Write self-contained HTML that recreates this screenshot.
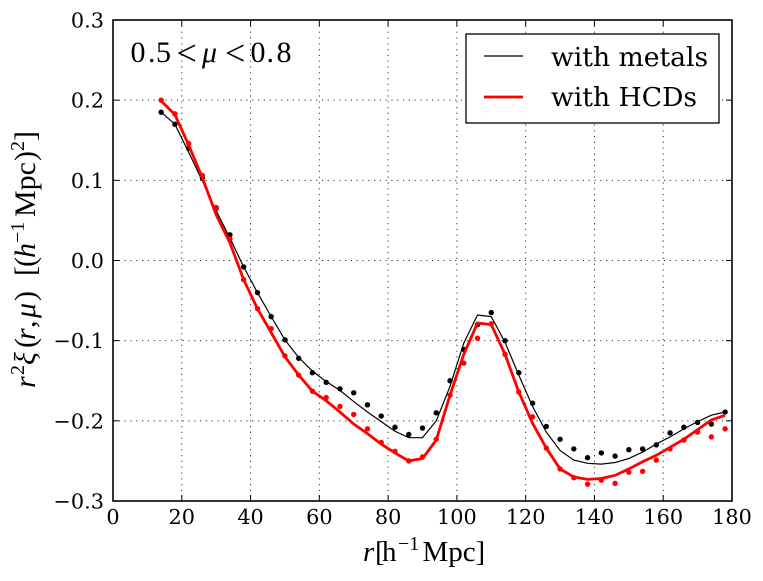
<!DOCTYPE html>
<html>
<head>
<meta charset="utf-8">
<style>
html,body{margin:0;padding:0;background:#fff;width:763px;height:581px;overflow:hidden}
svg{display:block}
text{font-family:"DejaVu Serif","Liberation Serif",serif;fill:#000}
.math,.math text{font-family:"Liberation Serif","DejaVu Serif",serif}
</style>
</head>
<body>
<svg id="chart" width="763" height="581" viewBox="0 0 763 581" xmlns="http://www.w3.org/2000/svg">
  <rect x="0" y="0" width="763" height="581" fill="#fff"/>
  <g id="grid"></g>
  <g id="series"></g>
  <g id="ticks"></g>
  <rect x="113" y="20" width="619" height="481" fill="none" stroke="#000" stroke-width="1.6"/>
  <text class="math" y="62" font-size="30"><tspan x="130.5">0</tspan><tspan x="148">.</tspan><tspan x="156">5</tspan><tspan x="176.5" y="65" font-size="36">&lt;</tspan><tspan x="202" y="62" font-style="italic">μ</tspan><tspan x="225" y="65" font-size="36">&lt;</tspan><tspan x="250.5" y="62">0</tspan><tspan x="266.5">.</tspan><tspan x="276.5">8</tspan></text>
  <g>
    <rect x="466" y="34" width="253" height="89" fill="#fff" stroke="#000" stroke-width="1.3"/>
    <line x1="484" y1="56" x2="523" y2="56" stroke="#000" stroke-width="1.2"/>
    <text x="551" y="66" font-size="26.6">with metals</text>
    <line x1="484" y1="97" x2="523" y2="97" stroke="#f00" stroke-width="2.8"/>
    <text x="551" y="106" font-size="26.6">with HCDs</text>
  </g>
  <text class="math" y="561" font-size="29"><tspan x="363" font-style="italic">r</tspan><tspan x="375">[</tspan><tspan x="382">h</tspan><tspan x="398" y="550" font-size="20">−1</tspan><tspan x="422.5" y="561">Mpc</tspan><tspan x="475.5">]</tspan></text>
  <text class="math" transform="translate(35 388) rotate(-90)" y="0" font-size="30"><tspan x="0" font-style="italic">r</tspan><tspan x="13" y="-11" font-size="20">2</tspan><tspan x="23" y="0" font-style="italic">ξ</tspan><tspan x="40">(</tspan><tspan x="48" font-style="italic">r</tspan><tspan x="60">,</tspan><tspan x="70" font-style="italic">μ</tspan><tspan x="87">)</tspan><tspan x="112">[</tspan><tspan x="121">(</tspan><tspan x="130" font-style="italic">h</tspan><tspan x="145" y="-11" font-size="20">−1</tspan><tspan x="171" y="0">Mpc</tspan><tspan x="227">)</tspan><tspan x="237" y="-11" font-size="20">2</tspan><tspan x="247" y="0">]</tspan></text>
</svg>
<script>
const radiusBins = [14,18,22,26,30,34,38,42,46,50,54,58,62,66,70,74,78,82,86,90,94,98,102,106,110,114,118,122,126,130,134,138,142,146,150,154,158,162,166,170,174,178];
const metalsLine = [.185,.170,.135,.099,.062,.028,-.008,-.040,-.070,-.099,-.121,-.138,-.151,-.162,-.176,-.189,-.201,-.213,-.221,-.221,-.200,-.157,-.103,-.068,-.070,-.102,-.143,-.182,-.214,-.237,-.249,-.253,-.254,-.252,-.247,-.239,-.229,-.220,-.210,-.201,-.193,-.189];
const hcdsLine = [.199,.182,.144,.103,.057,.022,-.024,-.060,-.090,-.120,-.143,-.163,-.175,-.189,-.204,-.216,-.229,-.240,-.250,-.247,-.224,-.168,-.117,-.078,-.080,-.117,-.164,-.203,-.234,-.260,-.270,-.273,-.272,-.268,-.260,-.251,-.243,-.233,-.223,-.211,-.199,-.193];
const metalsDots = [.185,.170,.140,.103,.065,.032,-.008,-.040,-.070,-.099,-.122,-.140,-.152,-.160,-.165,-.180,-.194,-.208,-.217,-.209,-.190,-.150,-.111,-.080,-.065,-.100,-.140,-.178,-.207,-.223,-.235,-.246,-.240,-.244,-.236,-.235,-.230,-.215,-.208,-.202,-.204,-.189];
const hcdsDots = [.200,.183,.146,.106,.066,.027,-.024,-.060,-.085,-.119,-.143,-.163,-.171,-.182,-.192,-.210,-.227,-.238,-.250,-.245,-.223,-.168,-.128,-.097,-.079,-.117,-.164,-.195,-.234,-.260,-.271,-.279,-.274,-.278,-.264,-.263,-.249,-.235,-.224,-.214,-.220,-.210];
const xTickValues = [0,20,40,60,80,100,120,140,160,180];
const yTickValues = [0.3,0.2,0.1,0,-0.1,-0.2,-0.3];

const NS = 'http://www.w3.org/2000/svg';
const left = 113, right = 732, top_ = 20, bottom = 501;
function xScale(v){ return left + (v - 0) / 180 * (right - left); }
function yScale(v){ return bottom - (v + 0.3) / 0.6 * (bottom - top_); }
function make(tag, attrs, parent){
  const el = document.createElementNS(NS, tag);
  for (const k in attrs) el.setAttribute(k, attrs[k]);
  parent.appendChild(el);
  return el;
}
const gridG = document.getElementById('grid');
const tickG = document.getElementById('ticks');
const seriesG = document.getElementById('series');

xTickValues.forEach(function(v){
  const x = xScale(v);
  if (v > 0 && v < 180) {
    const g = make('line', {x1:x, y1:top_, x2:x, y2:bottom, stroke:'#333', 'stroke-width':1, 'stroke-dasharray':'1.2 4.6'}, gridG);
    
    
  }
  const t1 = make('line', {x1:x, y1:bottom, x2:x, y2:bottom-6, stroke:'#000', 'stroke-width':1}, tickG);
  
  
  const t2 = make('line', {x1:x, y1:top_, x2:x, y2:top_+6, stroke:'#000', 'stroke-width':1}, tickG);
  
  
  const lab = make('text', {x:x, y:524, 'font-size':20.8, 'text-anchor':'middle'}, tickG);
  
  
  lab.textContent = String(v);
});
yTickValues.forEach(function(v){
  const y = yScale(v);
  if (v > -0.3 && v < 0.3) {
    const g = make('line', {x1:left, y1:y, x2:right, y2:y, stroke:'#333', 'stroke-width':1, 'stroke-dasharray':'1.2 4.6'}, gridG);
    
    
  }
  const t1 = make('line', {x1:left, y1:y, x2:left+6, y2:y, stroke:'#000', 'stroke-width':1}, tickG);
  
  
  const t2 = make('line', {x1:right, y1:y, x2:right-6, y2:y, stroke:'#000', 'stroke-width':1}, tickG);
  
  
  const lab = make('text', {x:104, y:y+7.5, 'font-size':20.8, 'text-anchor':'end'}, tickG);
  
  
  lab.textContent = (v < 0 ? '\u2212' : '') + Math.abs(v).toFixed(1);
});

function linePath(values){
  return values.map(function(v, i){ return (i ? 'L' : 'M') + xScale(radiusBins[i]).toFixed(2) + ' ' + yScale(v).toFixed(2); }).join(' ');
}
const metalsPath = make('path', {d:linePath(metalsLine), fill:'none', stroke:'#000', 'stroke-width':1.2}, seriesG);


metalsDots.forEach(function(v, i){
  const c = make('circle', {cx:xScale(radiusBins[i]), cy:yScale(v), r:2.7, fill:'#000'}, seriesG);
  
  
});
const hcdsPath = make('path', {d:linePath(hcdsLine), fill:'none', stroke:'#f00', 'stroke-width':2.8}, seriesG);


hcdsDots.forEach(function(v, i){
  const c = make('circle', {cx:xScale(radiusBins[i]), cy:yScale(v), r:2.7, fill:'#f00'}, seriesG);
  
  
});
</script>
</body>
</html>
